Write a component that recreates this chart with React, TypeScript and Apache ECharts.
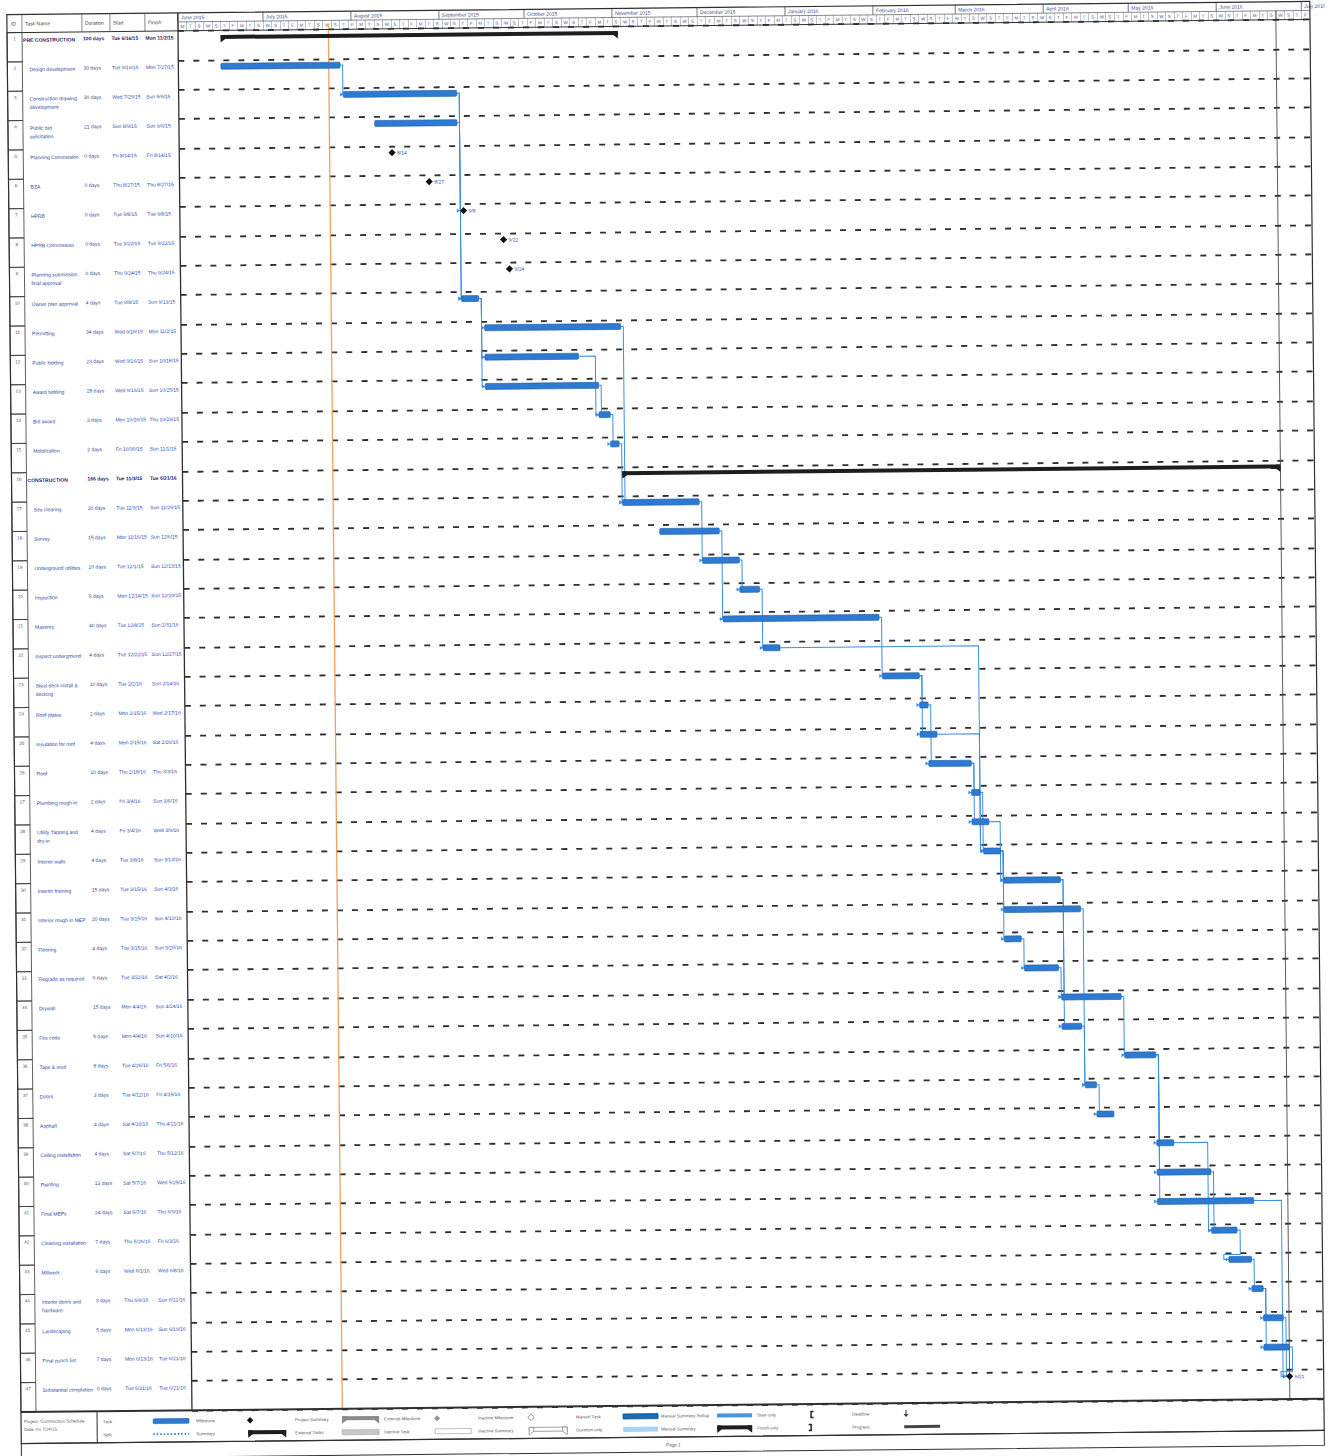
import { useEffect, useRef } from 'react';
import * as echarts from 'echarts';

// ---------------- data ----------------
const AXIS_START = '2015-06-01';
const AXIS_END = '2016-07-04';
const STATUS_DATE = '2015-07-24';
const PROJECT_FINISH_LINE = '2016-06-22';

const taskNames = [
  'PRE CONSTRUCTION',
  'Design development',
  'Construction drawing\ndevelopment',
  'Public bid\nsolicitation',
  'Planning Commission',
  'BZA',
  'HPRB',
  'HPRB Commission',
  'Planning submission\nfinal approval',
  'Owner plan approval',
  'Permitting',
  'Public bidding',
  'Award bidding',
  'Bid award',
  'Mobilization',
  'CONSTRUCTION',
  'Site clearing',
  'Survey',
  'Underground utilities',
  'Inspection',
  'Masonry',
  'Inspect underground',
  'Steel deck install &\ndecking',
  'Roof plates',
  'Insulation for roof',
  'Roof',
  'Plumbing rough-in',
  'Utility Tapping and\ndry-in',
  'Interior walls',
  'Interior framing',
  'Interior rough-in MEP',
  'Flooring',
  'Regrade as required',
  'Drywall',
  'Fire code',
  'Tape & mud',
  'Doors',
  'Asphalt',
  'Ceiling installation',
  'Painting',
  'Final MEPs',
  'Cleaning installation',
  'Millwork',
  'Interior doors and\nhardware',
  'Landscaping',
  'Final punch list',
  'Substantial completion',
];

const taskKinds = [
  's', 't', 't', 't', 'm', 'm', 'm', 'm', 'm', 't',
  't', 't', 't', 't', 't', 's', 't', 't', 't', 't',
  't', 't', 't', 't', 't', 't', 't', 't', 't', 't',
  't', 't', 't', 't', 't', 't', 't', 't', 't', 't',
  't', 't', 't', 't', 't', 't', 'm',
];

const durations = [
  '100 days', '30 days', '30 days', '21 days', '0 days', '0 days', '0 days', '0 days', '0 days', '4 days',
  '34 days', '23 days', '28 days', '3 days', '2 days', '166 days', '20 days', '15 days', '10 days', '5 days',
  '40 days', '4 days', '10 days', '2 days', '4 days', '10 days', '2 days', '4 days', '4 days', '15 days',
  '20 days', '4 days', '9 days', '15 days', '5 days', '8 days', '3 days', '4 days', '4 days', '13 days',
  '24 days', '7 days', '6 days', '3 days', '5 days', '7 days', '0 days',
];

const taskStarts = [
  '2015-06-16', '2015-06-16', '2015-07-29', '2015-08-09', '2015-08-14', '2015-08-27', '2015-09-08', '2015-09-22', '2015-09-24', '2015-09-08',
  '2015-09-16', '2015-09-16', '2015-09-16', '2015-10-26', '2015-10-30', '2015-11-03', '2015-11-03', '2015-11-16', '2015-12-01', '2015-12-14',
  '2015-12-08', '2015-12-22', '2016-02-02', '2016-02-15', '2016-02-15', '2016-02-18', '2016-03-04', '2016-03-04', '2016-03-08', '2016-03-15',
  '2016-03-15', '2016-03-15', '2016-03-22', '2016-04-04', '2016-04-04', '2016-04-26', '2016-04-12', '2016-04-16', '2016-05-07', '2016-05-07',
  '2016-05-07', '2016-05-26', '2016-06-01', '2016-06-09', '2016-06-13', '2016-06-13', '2016-06-21',
];

const taskFinishes = [
  '2015-11-02', '2015-07-27', '2015-09-06', '2015-09-06', '2015-08-14', '2015-08-27', '2015-09-08', '2015-09-22', '2015-09-24', '2015-09-13',
  '2015-11-02', '2015-10-18', '2015-10-25', '2015-10-29', '2015-11-01', '2016-06-21', '2015-11-29', '2015-12-06', '2015-12-13', '2015-12-20',
  '2016-01-31', '2015-12-27', '2016-02-14', '2016-02-17', '2016-02-20', '2016-03-03', '2016-03-06', '2016-03-09', '2016-03-13', '2016-04-03',
  '2016-04-10', '2016-03-20', '2016-04-02', '2016-04-24', '2016-04-10', '2016-05-06', '2016-04-15', '2016-04-21', '2016-05-12', '2016-05-25',
  '2016-06-09', '2016-06-03', '2016-06-08', '2016-06-12', '2016-06-19', '2016-06-21', '2016-06-21',
];

// predecessor row -> successor row (0-based rows)
const links = [
  [1, 2], [2, 6], [2, 9], [3, 9], [9, 10], [9, 11], [9, 12], [11, 13], [12, 13], [13, 14],
  [10, 16], [14, 16], [16, 18], [17, 20], [18, 19], [19, 21], [21, 28], [20, 22], [22, 23], [22, 24],
  [23, 25], [24, 28], [25, 26], [25, 27], [26, 28], [27, 29], [28, 29], [28, 30], [28, 31], [31, 32],
  [29, 33], [29, 34], [32, 33], [30, 36], [34, 36], [36, 37], [33, 35], [35, 38], [35, 39], [35, 40],
  [38, 41], [39, 41], [41, 42], [42, 43], [43, 44], [43, 45], [40, 46], [44, 46], [45, 46],
];

const monthStarts = [
  '2015-06-01', '2015-07-01', '2015-08-01', '2015-09-01', '2015-10-01', '2015-11-01', '2015-12-01',
  '2016-01-01', '2016-02-01', '2016-03-01', '2016-04-01', '2016-05-01', '2016-06-01', '2016-07-01',
];
const monthLabels = [
  'June 2015', 'July 2015', 'August 2015', 'September 2015', 'October 2015', 'November 2015', 'December 2015',
  'January 2016', 'February 2016', 'March 2016', 'April 2016', 'May 2016', 'June 2016', 'July 2016',
];

const tableHeaders = ['ID', 'Task Name', 'Duration', 'Start', 'Finish'];
const legendTop = ['Task', 'Milestone', 'Project Summary', 'External Milestone', 'Inactive Milestone', 'Manual Task', 'Manual Summary Rollup', 'Start-only', 'Deadline'];
const legendBottom = ['Split', 'Summary', 'External Tasks', 'Inactive Task', 'Inactive Summary', 'Duration-only', 'Manual Summary', 'Finish-only', 'Progress'];
const projectInfo = ['Project: Construction Schedule', 'Date: Fri 7/24/15'];
const pageLabel = 'Page 1';

// ---------------- layout ----------------
const FONT = "'Liberation Sans', Arial, sans-serif";
const DAY = 86400000;
const TABLE_L = 14;
const GANTT_L = 185;
const RIGHT = 1317;
const HEAD_T = 8;
const TOP = 26;
const ROW_H = 29.35;
const ROWS = taskNames.length;
const BODY_B = TOP + ROWS * ROW_H;
const LEG_B = 1437;
const FOOT_B = 1452;
const BAR_OFF = 6.5;
const BLUE = '#2d7ad0';
const LINK = '#3b8ee0';
const TXT = 5;

const ms = (s: string) => {
  const [y, m, d] = s.split('-').map(Number);
  return new Date(y, m - 1, d).getTime();
};
const dayOff = (s: string) => Math.round((ms(s) - ms(AXIS_START)) / DAY);
const WD = ['Sun', 'Mon', 'Tue', 'Wed', 'Thu', 'Fri', 'Sat'];
const fmtDate = (s: string) => {
  const dt = new Date(ms(s));
  return `${WD[dt.getDay()]} ${dt.getMonth() + 1}/${dt.getDate()}/${String(dt.getFullYear()).slice(2)}`;
};
const shortDate = (s: string) => {
  const dt = new Date(ms(s));
  return `${dt.getMonth() + 1}/${dt.getDate()}`;
};

function summaryShape(x0: number, x1: number, yc: number, color: string, outline = false) {
  const style = outline ? { fill: '#fff', stroke: color, lineWidth: 0.8 } : { fill: color };
  return [
    { type: 'rect', shape: { x: x0, y: yc - 2, width: Math.max(1, x1 - x0), height: 4 }, style },
    { type: 'polygon', shape: { points: [[x0, yc - 2], [x0 + 4.5, yc - 2], [x0 + 4.5, yc + 2], [x0, yc + 5.5]] }, style },
    { type: 'polygon', shape: { points: [[x1, yc - 2], [x1 - 4.5, yc - 2], [x1 - 4.5, yc + 2], [x1, yc + 5.5]] }, style },
  ];
}
function diamond(x: number, y: number, r: number, style: any) {
  return { type: 'polygon', shape: { points: [[x, y - r], [x + r, y], [x, y + r], [x - r, y]] }, style };
}

function buildOption() {
  const axisMax = dayOff(AXIS_END);

  // ---- table series ----
  const tableSeries = {
    type: 'custom',
    xAxisIndex: 0,
    yAxisIndex: 0,
    clip: false,
    data: taskNames.map((_, i) => [0, i]),
    encode: { x: 0, y: 1 },
    renderItem: (_p: any, api: any) => {
      const i = api.value(1);
      const c = api.coord([0, i]);
      const band = api.size([1, 1])[1];
      const x0 = c[0];
      const top = c[1];
      const isSum = taskKinds[i] === 's';
      const col = isSum ? '#1c2470' : '#2f4a9e';
      const dcol = '#2f52b4';
      const base = { fontFamily: FONT, fontSize: TXT, fontWeight: isSum ? 'bold' : 'normal' };
      return {
        type: 'group',
        children: [
          { type: 'rect', shape: { x: x0, y: top, width: 15, height: band }, style: { fill: 'none', stroke: '#3a3a3a', lineWidth: 0.8 } },
          { type: 'text', style: { ...base, fontWeight: 'normal', fontSize: 4.6, text: String(i + 1), x: x0 + 7.5, y: top + BAR_OFF, align: 'center', verticalAlign: 'middle', fill: '#555' } },
          { type: 'text', style: { ...base, text: taskNames[i], x: x0 + (isSum ? 16 : 22), y: top + 3.2, verticalAlign: 'top', lineHeight: 8.5, fill: col } },
          { type: 'text', style: { ...base, text: durations[i], x: x0 + 76, y: top + BAR_OFF, verticalAlign: 'middle', fill: isSum ? col : '#3a4f90' } },
          { type: 'text', style: { ...base, text: fmtDate(taskStarts[i]), x: x0 + 104.5, y: top + BAR_OFF, verticalAlign: 'middle', fill: isSum ? col : dcol } },
          { type: 'text', style: { ...base, text: fmtDate(taskFinishes[i]), x: x0 + 138.5, y: top + BAR_OFF, verticalAlign: 'middle', fill: isSum ? col : dcol } },
        ],
      };
    },
  };

  // ---- timescale top tier (months) ----
  const monthSeries = {
    type: 'custom',
    xAxisIndex: 2,
    yAxisIndex: 2,
    clip: false,
    data: monthStarts.map((d, i) => [dayOff(d), i]),
    encode: { x: 0, y: 1 },
    renderItem: (_p: any, api: any) => {
      const v = api.value(0);
      const i = api.value(1);
      const top = api.coord([v, 2]);
      const mid = api.coord([v, 1]);
      const x = top[0];
      return {
        type: 'group',
        children: [
          { type: 'line', shape: { x1: x, y1: top[1], x2: x, y2: mid[1] }, style: { stroke: '#555', lineWidth: 0.8 } },
          { type: 'text', style: { text: monthLabels[i], x: x + 3, y: (top[1] + mid[1]) / 2, verticalAlign: 'middle', fontFamily: FONT, fontSize: 5, fill: '#3d4f8c' } },
        ],
      };
    },
  };

  // ---- vertical date lines (status date, project finish) ----
  const dateLineColors = ['#f2a160', '#4a4a4a'];
  const dateLineWidths = [1.3, 0.9];
  const dateLineSeries = {
    type: 'custom',
    xAxisIndex: 1,
    yAxisIndex: 1,
    clip: false,
    data: [[ms(STATUS_DATE), 0], [ms(PROJECT_FINISH_LINE), 1]],
    encode: { x: 0, y: 1 },
    renderItem: (_p: any, api: any) => {
      const k = api.value(1);
      const a = api.coord([api.value(0), 0]);
      const b = api.coord([api.value(0), ROWS]);
      return {
        type: 'line',
        shape: { x1: a[0], y1: a[1] - (k === 0 ? 5 : 9), x2: b[0], y2: b[1] },
        style: { stroke: dateLineColors[k], lineWidth: dateLineWidths[k] },
      };
    },
  };

  // ---- links ----
  const endMs = (r: number) => ms(taskFinishes[r]) + DAY;
  const startMs = (r: number) => (taskKinds[r] === 'm' ? ms(taskFinishes[r]) + DAY : ms(taskStarts[r]));
  const linkSeries = {
    type: 'custom',
    xAxisIndex: 1,
    yAxisIndex: 1,
    clip: false,
    data: links.map(([a, b]) => [endMs(a), a, startMs(b), b]),
    encode: { x: [0, 2], y: [1, 3] },
    renderItem: (_p: any, api: any) => {
      const a = api.value(1);
      const b = api.value(3);
      const p = api.coord([api.value(0), a]);
      const q = api.coord([api.value(2), b]);
      const py = p[1] + BAR_OFF;
      const qy = q[1] + BAR_OFF;
      const qx = taskKinds[b] === 'm' ? q[0] - 3.5 : q[0];
      let pts: number[][];
      if (qx >= p[0] - 2) {
        const jx = Math.max(p[0] + 2.5, qx - 3);
        pts = [[p[0], py], [jx, py], [jx, qy], [qx, qy]];
      } else {
        const jx = p[0] + 3;
        const my = q[1] + 1.5;
        pts = [[p[0], py], [jx, py], [jx, my], [qx - 5, my], [qx - 5, qy], [qx, qy]];
      }
      return {
        type: 'group',
        children: [
          { type: 'polyline', shape: { points: pts }, style: { stroke: LINK, lineWidth: 1, fill: null } },
          { type: 'polygon', shape: { points: [[qx - 3.2, qy - 2], [qx, qy], [qx - 3.2, qy + 2]] }, style: { fill: LINK } },
        ],
      };
    },
  };

  // ---- task bars ----
  const taskSeries = {
    type: 'custom',
    xAxisIndex: 1,
    yAxisIndex: 1,
    clip: false,
    data: taskNames.map((_, i) => [ms(taskStarts[i]), ms(taskFinishes[i]) + DAY, i]),
    encode: { x: [0, 1], y: 2 },
    renderItem: (_p: any, api: any) => {
      const i = api.value(2);
      const p0 = api.coord([api.value(0), i]);
      const p1 = api.coord([api.value(1), i]);
      const yc = p0[1] + BAR_OFF;
      const k = taskKinds[i];
      if (k === 's') {
        return { type: 'group', children: summaryShape(p0[0], p1[0], yc, '#1e1e1e') };
      }
      if (k === 'm') {
        return {
          type: 'group',
          children: [
            diamond(p1[0], yc, 3.6, { fill: '#111' }),
            { type: 'text', style: { text: shortDate(taskFinishes[i]), x: p1[0] + 5, y: yc, verticalAlign: 'middle', fontFamily: FONT, fontSize: 5, fill: '#2f4fb0' } },
          ],
        };
      }
      return {
        type: 'rect',
        shape: { x: p0[0], y: yc - 3, width: Math.max(1.5, p1[0] - p0[0]), height: 6, r: 1 },
        style: { fill: BLUE, stroke: '#1b5ea9', lineWidth: 0.6 },
      };
    },
  };

  // ---- frame & legend graphics ----
  const g: any[] = [];
  const ln = (x1: number, y1: number, x2: number, y2: number, w = 1, c = '#2f2f2f') =>
    g.push({ type: 'line', shape: { x1, y1, x2, y2 }, style: { stroke: c, lineWidth: w }, silent: true, z: 10 });
  const tx = (text: string, x: number, y: number, size: number, fill = '#555', extra: any = {}) =>
    g.push({ type: 'text', style: { text, x, y, fontFamily: FONT, fontSize: size, fill, verticalAlign: 'middle', ...extra }, silent: true, z: 10 });

  g.push({ type: 'rect', shape: { x: TABLE_L, y: HEAD_T, width: RIGHT - TABLE_L, height: LEG_B - HEAD_T }, style: { fill: 'none', stroke: '#2f2f2f', lineWidth: 1.2 }, silent: true, z: 10 });
  ln(TABLE_L, TOP, RIGHT, TOP, 1);
  ln(TABLE_L, BODY_B, RIGHT, BODY_B, 2);
  ln(GANTT_L, HEAD_T, GANTT_L, BODY_B, 1.3);
  ln(GANTT_L, (HEAD_T + TOP) / 2, RIGHT, (HEAD_T + TOP) / 2, 0.7, '#555');
  const headX = [TABLE_L, TABLE_L + 15, 89, 117, 152];
  [29, 89, 117, 152].forEach((x) => ln(x, HEAD_T, x, TOP, 0.7, '#555'));
  tableHeaders.forEach((h, i) => tx(h, headX[i] + (i === 0 ? 4 : 3), (HEAD_T + TOP) / 2, 5, '#444'));

  // legend
  ln(90, BODY_B, 90, LEG_B, 1);
  tx(projectInfo[0], 17, 1415, 4.4, '#555');
  tx(projectInfo[1], 17, 1423, 4.4, '#555');
  const labelX = [96, 189, 288, 377, 471, 569, 654, 750, 845];
  const yA = 1416;
  const yB = 1429;
  legendTop.forEach((t, i) => tx(t, labelX[i], yA, 4.4, '#555'));
  legendBottom.forEach((t, i) => tx(t, labelX[i], yB, 4.4, '#555'));
  const push = (o: any) => g.push({ ...o, silent: true, z: 10 });
  push({ type: 'rect', shape: { x: 146, y: yA - 2.5, width: 36, height: 5, r: 1 }, style: { fill: BLUE, stroke: '#1b5ea9', lineWidth: 0.5 } });
  push({ type: 'line', shape: { x1: 146, y1: yB, x2: 182, y2: yB }, style: { stroke: BLUE, lineWidth: 1.8, lineDash: [1.5, 2] } });
  push(diamond(243, yA, 3.2, { fill: '#111' }));
  summaryShape(241, 279, yB - 1, '#1e1e1e').forEach(push);
  summaryShape(335, 372, yA - 1, '#8a8a8a').forEach(push);
  push({ type: 'rect', shape: { x: 335, y: yB - 2.5, width: 37, height: 5 }, style: { fill: '#c9c9c9', stroke: '#9a9a9a', lineWidth: 0.5 } });
  push(diamond(430, yA, 3.2, { fill: '#9a9a9a' }));
  push({ type: 'rect', shape: { x: 428, y: yB - 2.5, width: 36, height: 5 }, style: { fill: '#fff', stroke: '#9a9a9a', lineWidth: 0.6 } });
  push(diamond(524, yA, 3.2, { fill: '#fff', stroke: '#777', lineWidth: 0.8 }));
  summaryShape(522, 560, yB - 1, '#8a8a8a', true).forEach(push);
  push({ type: 'rect', shape: { x: 616, y: yA - 2.5, width: 35, height: 5 }, style: { fill: '#1b6db5', stroke: '#0f4d86', lineWidth: 0.8 } });
  push({ type: 'rect', shape: { x: 616, y: yB - 2.5, width: 35, height: 5 }, style: { fill: '#a9d3f3' } });
  push({ type: 'rect', shape: { x: 710, y: yA - 2, width: 35, height: 4 }, style: { fill: '#4d94d8' } });
  summaryShape(710, 745, yB - 1, '#1e1e1e').forEach(push);
  push({ type: 'polyline', shape: { points: [[806.5, yA - 3], [804, yA - 3], [804, yA + 3], [806.5, yA + 3]] }, style: { stroke: '#222', lineWidth: 1.5, fill: null } });
  push({ type: 'polyline', shape: { points: [[801.5, yB - 3], [804, yB - 3], [804, yB + 3], [801.5, yB + 3]] }, style: { stroke: '#222', lineWidth: 1.5, fill: null } });
  push({ type: 'line', shape: { x1: 899, y1: yA - 3.5, x2: 899, y2: yA + 1 }, style: { stroke: '#333', lineWidth: 1 } });
  push({ type: 'polygon', shape: { points: [[896.5, yA + 0.5], [901.5, yA + 0.5], [899, yA + 3.5]] }, style: { fill: '#333' } });
  push({ type: 'rect', shape: { x: 897, y: yB - 1.5, width: 36, height: 3 }, style: { fill: '#444' } });

  // footer
  g.push({ type: 'rect', shape: { x: TABLE_L, y: LEG_B, width: RIGHT - TABLE_L, height: FOOT_B - LEG_B }, style: { fill: 'none', stroke: '#2f2f2f', lineWidth: 1 }, silent: true, z: 10 });
  tx(pageLabel, 666, 1445, 4.6, '#555', { align: 'center' });

  const hiddenY = (gridIndex: number, splitLine: boolean) => ({
    gridIndex,
    type: 'value',
    min: 0,
    max: ROWS,
    interval: 1,
    inverse: true,
    axisLine: { show: false },
    axisTick: { show: false },
    axisLabel: { show: false },
    splitLine: splitLine
      ? { show: true, lineStyle: { type: [6, 9], color: '#2e2e2e', width: 1.8 } }
      : { show: false },
  });

  return {
    animation: false,
    backgroundColor: '#ffffff',
    textStyle: { fontFamily: FONT },
    grid: [
      { left: TABLE_L, top: TOP, width: GANTT_L - TABLE_L, height: ROWS * ROW_H },
      { left: GANTT_L, top: TOP, width: RIGHT - GANTT_L, height: ROWS * ROW_H },
      { left: GANTT_L, top: HEAD_T, width: RIGHT - GANTT_L, height: TOP - HEAD_T },
    ],
    xAxis: [
      { gridIndex: 0, type: 'value', min: 0, max: GANTT_L - TABLE_L, axisLine: { show: false }, axisTick: { show: false }, axisLabel: { show: false }, splitLine: { show: false } },
      { gridIndex: 1, type: 'time', min: ms(AXIS_START), max: ms(AXIS_END), axisLine: { show: false }, axisTick: { show: false }, axisLabel: { show: false }, splitLine: { show: false } },
      {
        gridIndex: 2,
        type: 'value',
        min: 0,
        max: axisMax,
        interval: 3,
        position: 'bottom',
        axisLine: { show: false },
        axisTick: { show: true, inside: true, length: (TOP - HEAD_T) / 2, lineStyle: { color: '#8a93a8', width: 0.6 } },
        splitLine: { show: false },
        axisLabel: {
          inside: true,
          margin: 2,
          fontSize: 4.5,
          color: '#4a5a90',
          align: 'left',
          padding: [0, 0, 0, 2.5],
          showMaxLabel: false,
          fontFamily: FONT,
          formatter: (v: number) => 'SMTWTFS'[new Date(ms(AXIS_START) + v * DAY).getDay()],
        },
      },
    ],
    yAxis: [
      hiddenY(0, false),
      hiddenY(1, true),
      { gridIndex: 2, type: 'value', min: 0, max: 2, axisLine: { show: false }, axisTick: { show: false }, axisLabel: { show: false }, splitLine: { show: false } },
    ],
    series: [tableSeries, monthSeries, dateLineSeries, linkSeries, taskSeries],
    graphic: { elements: g },
  };
}

export default function App() {
  const ref = useRef<HTMLDivElement>(null);
  useEffect(() => {
    if (!ref.current) return;
    const chart = echarts.init(ref.current, undefined, { renderer: 'svg' });
    chart.setOption(buildOption() as any);
    return () => chart.dispose();
  }, []);
  return (
    <div style={{ position: 'absolute', left: 0, top: 0, width: 1332, height: 1456, background: '#fff', overflow: 'hidden' }}>
      <div
        ref={ref}
        style={{ width: 1332, height: 1456, transform: 'rotate(-0.58deg)', transformOrigin: '666px 720px' }}
      />
    </div>
  );
}
